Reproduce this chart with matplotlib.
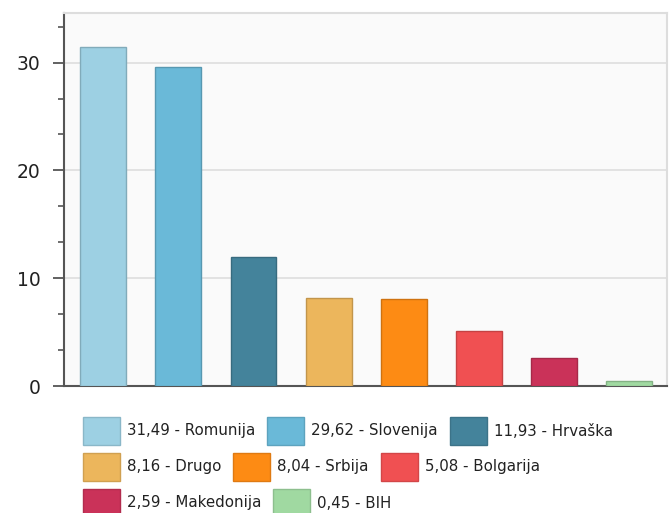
import matplotlib.pyplot as plt
import matplotlib.patches as mpatches
from matplotlib.ticker import MultipleLocator
from matplotlib.colors import to_rgb

# Podaci
countries = ['Romunija', 'Slovenija', 'Hrvaška', 'Drugo', 'Srbija', 'Bolgarija', 'Makedonija', 'BIH']
values = [31.49, 29.62, 11.93, 8.16, 8.04, 5.08, 2.59, 0.45]
value_labels = ['31,49', '29,62', '11,93', '8,16', '8,04', '5,08', '2,59', '0,45']
colors = ['#9DD0E3', '#6AB9D8', '#44839B', '#ECB65C', '#FD8B14', '#F05052', '#CA3259', '#A0D9A1']
y_ticks = [0, 10, 20, 30]


def darker(c, f=0.82):
    r, g, b = to_rgb(c)
    return (r * f, g * f, b * f)


W, H = 670, 513
fig = plt.figure(figsize=(W / 100, H / 100), dpi=100)
ax = fig.add_axes([64 / W, 1 - 386 / H, (667 - 64) / W, (386 - 13) / H])
ax.set_facecolor('#FAFAFA')

x = list(range(len(values)))
ax.bar(x, values, width=0.61, color=colors,
       edgecolor=[darker(c) for c in colors], linewidth=1, zorder=3)

ax.set_xlim(-0.52, 7.5)
ax.set_ylim(0, 34.6)
ax.set_yticks(y_ticks)
ax.yaxis.set_minor_locator(MultipleLocator(10 / 3))
ax.set_xticks([])
ax.grid(axis='y', color='#E0E0E0', linewidth=1.3, zorder=0)

for s in ['top', 'right']:
    ax.spines[s].set_color('#DDDDDD')
    ax.spines[s].set_linewidth(1.5)
for s in ['left', 'bottom']:
    ax.spines[s].set_color('#555555')
    ax.spines[s].set_linewidth(1.5)
ax.tick_params(axis='y', which='major', length=8, width=1.3, color='#555555',
               labelsize=13.5, labelcolor='#222222', pad=9)
ax.tick_params(axis='y', which='minor', length=4, width=1.2, color='#555555')

# Legenda (tekuci raspored)
renderer = fig.canvas.get_renderer()
sw_w, sw_h = 37, 28
x0, limit = 83, 662
row_y = [431, 467, 503]
cx, row = x0, 0
for lab, val, c in zip(countries, value_labels, colors):
    txt = f'{val} - {lab}'
    t = fig.text(0, 0, txt, fontsize=10.8, color='#222222', va='center', ha='left')
    tw = t.get_window_extent(renderer).width
    item_w = sw_w + 7 + tw
    if cx + item_w > limit:
        row += 1
        cx = x0
    yc = row_y[row]
    fig.patches.append(mpatches.Rectangle((cx / W, 1 - (yc + sw_h / 2) / H), sw_w / W, sw_h / H,
                                          transform=fig.transFigure, facecolor=c,
                                          edgecolor=darker(c, 0.88), linewidth=1))
    t.set_position(((cx + sw_w + 7) / W, 1 - yc / H))
    cx += item_w + 12

fig.savefig('out.png', dpi=100)
